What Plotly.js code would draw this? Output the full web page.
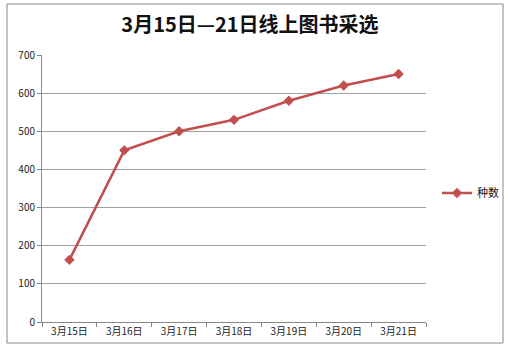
<!DOCTYPE html>
<html><head><meta charset="utf-8">
<script src="https://cdn.plot.ly/plotly-3.0.1.min.js"></script>
<style>html,body{margin:0;padding:0;background:#fff;}#c{width:508px;height:359px;}</style>
</head><body><div id="c"></div>
<script>
const categories = ['3月15日','3月16日','3月17日','3月18日','3月19日','3月20日','3月21日'];
const values = [163, 450, 500, 530, 580, 620, 650];
const seriesName = '种数';
const yTicks = [0,100,200,300,400,500,600,700];

const W=508,H=359,L=42,R=82,T=55,B=37;
const pw=W-L-R, ph=H-T-B;
function px(x){return (x-L)/pw;}
function py(y){return (H-B-y)/ph;}

Plotly.newPlot('c',[{
  x: categories, y: values, name: seriesName, type:'scatter', mode:'lines+markers',
  line:{color:'#C0504D', width:2.5},
  marker:{symbol:'diamond', size:8, color:'#C0504D'}
}],{
  width:W, height:H,
  margin:{l:L,r:R,t:T,b:B,pad:0, autoexpand:false},
  paper_bgcolor:'#fff', plot_bgcolor:'#fff',
  font:{family:'"Noto Sans CJK SC", sans-serif', size:10, color:'#222'},
  title:{text:'<b>3月15日—21日线上图书采选</b>', x:0.492, xanchor:'center', y:0.93, yanchor:'middle',
    font:{size:20, color:'#111', family:'"Noto Sans CJK SC", sans-serif'}},
  showlegend:true,
  legend:{x:px(437), y:py(193), xanchor:'left', yanchor:'middle', font:{size:11,color:'#111'}, bgcolor:'rgba(0,0,0,0)'},
  xaxis:{type:'category', tickson:'boundaries', ticks:'outside', ticklen:4, tickcolor:'#888',
    showline:true, linecolor:'#888', linewidth:1, showgrid:false, zeroline:false,
    range:[-0.5,6.5], tickfont:{size:10,color:'#222'}},
  yaxis:{range:[0,700], tickvals:yTicks, ticks:'outside', ticklen:4, tickcolor:'#888',
    showline:true, linecolor:'#888', linewidth:1, showgrid:true, gridcolor:'#a0a0a0', gridwidth:1,
    zeroline:false, tickfont:{size:10,color:'#222'}},
  shapes:[{type:'rect', xref:'paper', yref:'paper', x0:px(7), x1:px(503), y0:py(343), y1:py(4),
    line:{color:'#888', width:1}, fillcolor:'rgba(0,0,0,0)', layer:'below'}]
},{displayModeBar:false, staticPlot:true});
</script></body></html>
